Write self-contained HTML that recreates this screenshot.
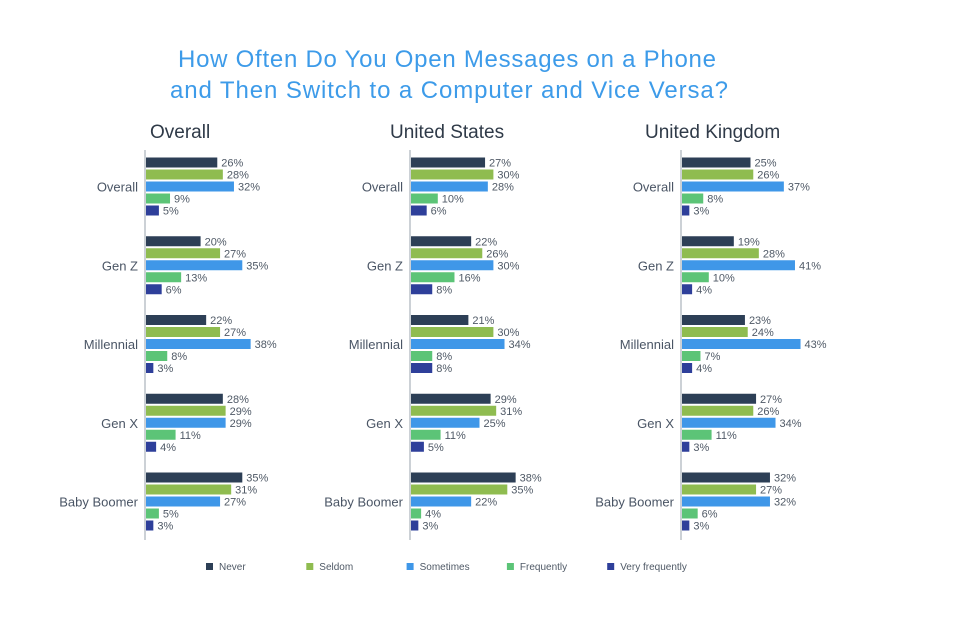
<!DOCTYPE html>
<html><head><meta charset="utf-8"><style>
body{margin:0;background:#fff;}
svg text{font-family:"Liberation Sans",sans-serif;}
</style></head><body>
<svg id="c" width="960" height="612" xmlns="http://www.w3.org/2000/svg">
<text x="178" y="67" textLength="538" lengthAdjust="spacing" font-size="24" fill="#3d9be9">How Often Do You Open Messages on a Phone</text>
<text x="170" y="98" textLength="558" lengthAdjust="spacing" font-size="24" fill="#3d9be9">and Then Switch to a Computer and Vice Versa?</text>
</svg>
<script>
const panels=["Overall","United States","United Kingdom"];
const groups=["Overall","Gen Z","Millennial","Gen X","Baby Boomer"];
const series=["Never","Seldom","Sometimes","Frequently","Very frequently"];
const colors=["#2d3f56","#8fbc50","#3f97e8","#5cc477","#2e3f9a"];
const overallData=[[26,28,32,9,5],[20,27,35,13,6],[22,27,38,8,3],[28,29,29,11,4],[35,31,27,5,3]];
const usData=[[27,30,28,10,6],[22,26,30,16,8],[21,30,34,8,8],[29,31,25,11,5],[38,35,22,4,3]];
const ukData=[[25,26,37,8,3],[19,28,41,10,4],[23,24,43,7,4],[27,26,34,11,3],[32,27,32,6,3]];
const allData=[overallData,usData,ukData];
const svg=document.getElementById('c');
const NS="http://www.w3.org/2000/svg";
function mk(t,a,txt){const e=document.createElementNS(NS,t);for(const k in a)e.setAttribute(k,a[k]);if(txt!=null)e.textContent=txt;svg.appendChild(e);return e;}
const axisX=[145,410,681];
const titleX=[150,390,645];
const scale=2.78;
function xs(p,v){return axisX[p]+v*scale;}
function yg(g,s){return 157.5+g*78.75+s*12;}
panels.forEach((p,pi)=>{
 const t=mk('text',{x:titleX[pi],y:138,'font-size':19,fill:'#2f3a48'},p);
 
 
 const ax=mk('line',{x1:axisX[pi],x2:axisX[pi],y1:150,y2:540,stroke:'#9aa3ad','stroke-width':1});
 
 
 groups.forEach((g,gi)=>{
  const l=mk('text',{x:axisX[pi]-7,y:yg(gi,2)+10,'text-anchor':'end','font-size':13,fill:'#4a5565'},g);
  
  
  series.forEach((s,si)=>{
   const v=allData[pi][gi][si];
   const r=mk('rect',{x:axisX[pi]+1,y:yg(gi,si),width:xs(pi,v)-axisX[pi]-1,height:10,fill:colors[si]});
   
   
   const vt=mk('text',{x:xs(pi,v)+4,y:yg(gi,si)+9,'font-size':11,fill:'#4f5966'},v+'%');
   
   
  });
 });
});
series.forEach((s,si)=>{
 const x=206+si*100.3;
 const r=mk('rect',{x:x,y:563,width:7,height:7,fill:colors[si]});
 
 
 const t=mk('text',{x:x+13,y:570,'font-size':10,fill:'#4f5966'},s);
 
 
});
</script>
</body></html>
